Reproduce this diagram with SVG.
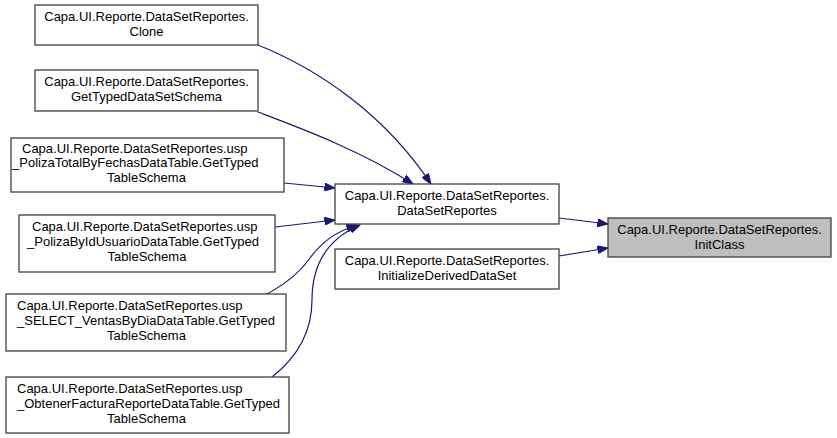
<svg xmlns="http://www.w3.org/2000/svg" width="837" height="438" viewBox="0 0 837 438">
<style>
  .node rect { fill: #ffffff; stroke: #404040; stroke-width: 1.3; }
  .node.root rect { fill: #bfbfbf; }
  text { font-family: "Liberation Sans", Arial, sans-serif; font-size: 13px; fill: #000000; }
  .m { text-anchor: middle; }
  .edges path { fill: none; stroke: #191970; stroke-width: 1.2; marker-end: url(#arrow); }
</style>
<defs>
  <marker id="arrow" markerUnits="userSpaceOnUse" markerWidth="11" markerHeight="8" refX="10.5" refY="4" orient="auto">
    <path d="M0,0 L10.5,4 L0,8 z" fill="#191970" stroke="#191970" stroke-width="1"/>
  </marker>
</defs>
<rect width="837" height="438" fill="#ffffff"/>

<g id="edges" class="edges">
  <path d="M258,45 C 320,70 385,115 431,184"/>
  <path d="M258,112 C 300,128 360,150 413,184"/>
  <path d="M284,183 L335,188"/>
  <path d="M275,227 L335,220"/>
  <path d="M263,296 C 285,285 300,272 310,258 C 322,242 335,232 357,225"/>
  <path d="M272,377 C 300,355 312,330 312,300 C 312,268 325,240 360,225"/>
  <path d="M559,218 L608,224"/>
  <path d="M559,256 L608,248"/>
</g>

<g id="node-clone" class="node">
  <rect x="35" y="5" width="223" height="40"/>
  <text class="m" x="146.5" y="21">Capa.UI.Reporte.DataSetReportes.</text>
  <text class="m" x="146.5" y="36">Clone</text>
</g>
<g id="node-gettypeddatasetschema" class="node">
  <rect x="35" y="70" width="223" height="41"/>
  <text class="m" x="146.5" y="86">Capa.UI.Reporte.DataSetReportes.</text>
  <text class="m" x="146.5" y="101">GetTypedDataSetSchema</text>
</g>
<g id="node-polizatotal" class="node">
  <rect x="11" y="138" width="273" height="54"/>
  <text x="22" y="153">Capa.UI.Reporte.DataSetReportes.usp</text>
  <text x="12" y="167">_PolizaTotalByFechasDataTable.GetTyped</text>
  <text class="m" x="146.5" y="182">TableSchema</text>
</g>
<g id="node-polizabyid" class="node">
  <rect x="19" y="215" width="256" height="57"/>
  <text x="32" y="231">Capa.UI.Reporte.DataSetReportes.usp</text>
  <text x="27" y="246">_PolizaByIdUsuarioDataTable.GetTyped</text>
  <text class="m" x="147" y="261">TableSchema</text>
</g>
<g id="node-select" class="node">
  <rect x="6" y="294" width="280" height="57"/>
  <text x="17" y="310">Capa.UI.Reporte.DataSetReportes.usp</text>
  <text x="17" y="325">_SELECT_VentasByDiaDataTable.GetTyped</text>
  <text class="m" x="146.5" y="340">TableSchema</text>
</g>
<g id="node-obtenerfactura" class="node">
  <rect x="6" y="377" width="283" height="56"/>
  <text x="17" y="393">Capa.UI.Reporte.DataSetReportes.usp</text>
  <text x="17" y="408">_ObtenerFacturaReporteDataTable.GetTyped</text>
  <text class="m" x="146.5" y="423">TableSchema</text>
</g>
<g id="node-datasetreportes" class="node">
  <rect x="335" y="184" width="224" height="40"/>
  <text class="m" x="447" y="200">Capa.UI.Reporte.DataSetReportes.</text>
  <text class="m" x="447" y="215">DataSetReportes</text>
</g>
<g id="node-initializederiveddataset" class="node">
  <rect x="335" y="249" width="224" height="40"/>
  <text class="m" x="447" y="265">Capa.UI.Reporte.DataSetReportes.</text>
  <text class="m" x="447" y="280">InitializeDerivedDataSet</text>
</g>
<g id="node-initclass" class="node root">
  <rect x="608" y="218" width="223" height="39"/>
  <text class="m" x="719.5" y="234">Capa.UI.Reporte.DataSetReportes.</text>
  <text class="m" x="719.5" y="249">InitClass</text>
</g>
</svg>
